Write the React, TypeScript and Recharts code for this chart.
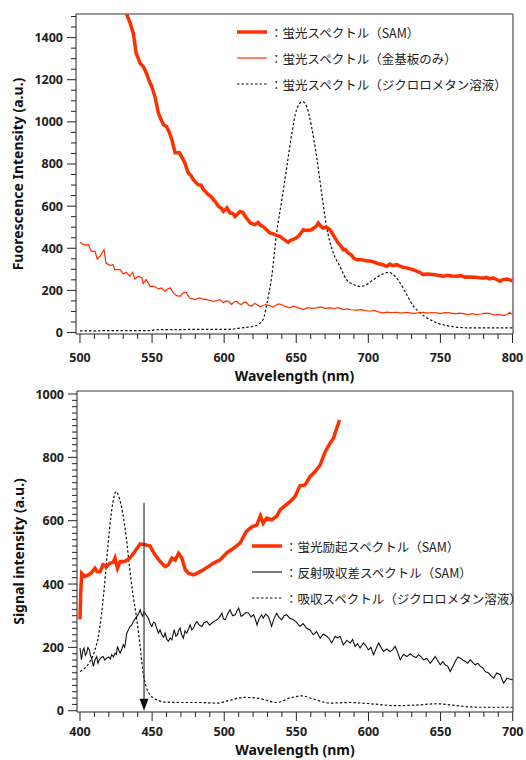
import React from "react";
import { LineChart, Line, XAxis, YAxis, ReferenceLine, Legend, Label } from "recharts";

// top panel: fluorescence spectra [wavelength nm, intensity]
const fluorSam: [number, number][] = [
  [530, 1600], [532.6, 1507], [535, 1465], [537, 1420], [539, 1326], [541.7, 1278], [544, 1262], [546, 1232],
  [548, 1195], [549.8, 1167], [552, 1120], [554.4, 1042], [556, 1015], [557.9, 986], [560, 978], [562, 950],
  [563.7, 915], [566, 853], [569, 853], [571.7, 820], [573, 800], [575, 758], [577, 745], [578.7, 725],
  [580, 715], [582, 701], [584, 700], [585.6, 678], [587, 670], [589, 654], [591, 645], [592.6, 630],
  [594, 620], [596, 599], [598, 590], [599.5, 575], [601, 585], [602, 592], [604, 568], [606, 565],
  [607.6, 551], [609, 562], [611, 575], [613, 570], [614.6, 551], [616, 540], [618, 521], [620, 515],
  [621.5, 512], [623.6, 523], [625, 510], [627, 504], [629, 490], [631.7, 473], [634, 468], [636, 462],
  [638.7, 457], [641, 445], [644.4, 428], [646, 438], [648, 442], [650, 449], [652, 460], [654.9, 488],
  [657, 484], [660.6, 488], [662, 495], [664, 505], [665.3, 520], [667, 505], [668.7, 496], [671, 500],
  [673.4, 488], [675, 470], [676.9, 449], [679, 425], [680.5, 415], [682.6, 393], [684, 395], [686, 378],
  [688, 370], [690, 352], [691.9, 346], [695, 345], [698.8, 341], [702, 338], [705.8, 330], [708, 325],
  [710, 322], [712.7, 314], [715, 325], [717, 318], [719.7, 322], [722, 315], [724, 310], [726.6, 307],
  [729, 302], [731, 298], [733.5, 291], [736, 285], [738, 275], [741, 278], [745, 275], [748, 272],
  [752, 267], [755, 272], [758, 268], [761, 267], [764, 270], [767, 263], [770.6, 264], [774, 262],
  [777, 260], [779.9, 259], [782, 262], [784, 255], [786.8, 259], [789, 252], [791.4, 243], [793, 250],
  [795.8, 254], [798, 250], [800, 246],
];

const fluorGold: [number, number][] = [
  [500, 428], [502.3, 417], [504, 416], [505.8, 417], [508, 385], [510.4, 385], [512, 349], [513.9, 362],
  [516.7, 393], [518, 330], [520.8, 319], [523, 322], [524, 299], [527.8, 299], [530, 278], [532, 286],
  [534.7, 267], [536.5, 286], [538, 254], [540.5, 267], [543, 259], [543.9, 232], [546, 251], [548.6, 219],
  [550.5, 220], [552, 217], [554.4, 207], [556.7, 212], [559, 196], [560.5, 205], [562.5, 212], [564.8, 188],
  [567, 175], [569.4, 172], [571.7, 188], [573.6, 191], [576, 164], [578, 160], [579.8, 156], [583, 164],
  [585, 160], [588, 156], [590, 152], [592.6, 148], [595, 152], [597, 156], [599.5, 141], [601, 150],
  [603, 148], [605, 133], [607, 145], [608.8, 148], [610, 138], [612, 133], [614, 145], [615.7, 141],
  [617, 130], [619, 125], [621, 138], [622.7, 133], [625, 122], [627, 128], [629, 133], [631.7, 128],
  [634, 120], [636, 130], [637.5, 136], [639.8, 133], [642, 125], [645.6, 117], [648, 125], [651, 118],
  [655, 109], [658, 118], [661, 115], [664, 117], [667, 122], [670, 115], [673.4, 117], [676, 114],
  [679, 118], [682.6, 109], [685, 112], [688, 108], [691.9, 106], [695, 109], [698, 104], [701, 101],
  [704, 105], [707, 98], [710.4, 93], [713, 97], [716, 95], [719.7, 96], [723, 92], [726, 96],
  [729, 93], [732, 90], [735, 95], [738, 96], [741, 92], [744, 95], [747.5, 93], [750, 90],
  [753, 94], [756.7, 93], [760, 89], [763, 92], [766, 90], [769, 85], [772, 90], [775, 85],
  [778, 88], [781, 92], [784.5, 90], [787, 83], [790, 86], [793.7, 81], [796, 84], [798, 96], [800, 85],
];

const fluorSolution: [number, number][] = [
  [500, 8], [510, 8], [520, 9], [530, 9], [540, 9], [550, 10], [552, 13], [560, 14], [570, 14],
  [580, 15], [590, 15], [600, 15], [605, 16], [610, 20], [615, 24], [621, 30], [624, 40], [627, 62],
  [630, 150], [633, 267], [636.4, 473], [640, 630], [643.5, 788], [647, 947], [650.2, 1057], [654.4, 1096],
  [657.2, 1073], [660.6, 978], [664.1, 836], [667.6, 662], [671, 504], [675.7, 378], [680.3, 314],
  [684.9, 251], [689.6, 228], [694.2, 219], [698.8, 228], [703.5, 251], [709.3, 275], [713.9, 286],
  [718.5, 267], [722, 236], [726.6, 180], [731.3, 125], [735.9, 93], [740.5, 70], [747.5, 46],
  [756.7, 30], [770.6, 22], [789, 22], [800, 22],
];

// bottom panel: excitation / absorption spectra
const excitationSam: [number, number][] = [
  [400, 289], [400.5, 371], [401.2, 434], [403.5, 424], [405.8, 429], [408, 436], [410.4, 450], [412, 439],
  [413.9, 439], [416, 461], [418.5, 455], [420.8, 466], [423, 468], [424.3, 482], [426, 450], [427.8, 471],
  [431, 471], [434.7, 482], [438, 503], [441.7, 527], [445, 524], [448.6, 520], [452, 492], [455.6, 471],
  [459, 455], [461.3, 461], [463.7, 482], [466, 476], [468.3, 497], [470.6, 482], [473, 445], [475.2, 434],
  [478.7, 429], [482, 436], [485.6, 445], [489, 455], [492.6, 466], [497, 476], [501.9, 499], [506.5, 513],
  [511, 529], [515.3, 566], [519, 580], [522.7, 587], [525, 615], [527, 592], [529.4, 608], [532.8, 603],
  [536.3, 613], [538.7, 634], [542, 647], [545.6, 660], [549, 676], [552.5, 710], [556, 713], [559.5, 739],
  [563, 755], [566.5, 776], [570, 818], [573.4, 845], [575.7, 860], [578, 892], [580, 918],
];

const reflectionDiff: [number, number][] = [
  [400, 198], [401, 161], [402, 190], [402.8, 198], [403.7, 175], [404.6, 182], [405.5, 200], [406.5, 192],
  [407.2, 175], [408, 166], [409.3, 140], [410.4, 160], [411.6, 171], [412.5, 150], [413.4, 161], [414.7, 168],
  [416, 171], [417.2, 160], [418.5, 166], [420, 170], [421, 163], [422, 177], [423.2, 170], [424.3, 182],
  [425.2, 178], [426, 203], [427, 190], [427.8, 182], [429, 195], [430, 208], [431, 200], [432.4, 245],
  [433.5, 255], [434.7, 266], [435.8, 270], [437, 282], [438.2, 290], [439.4, 298], [440.5, 305], [441.7, 319],
  [442.6, 305], [443.5, 298], [444.2, 312], [445, 308], [446.2, 300], [447.4, 292], [448.6, 275], [449.8, 266],
  [451, 280], [452, 277], [453.2, 260], [454.4, 245], [455.5, 255], [456.7, 240], [458, 232], [459, 245],
  [460.2, 225], [461.3, 219], [462.5, 230], [463.7, 224], [464.5, 240], [465.3, 256], [466.5, 235], [467.6, 240],
  [468.5, 255], [469.4, 261], [470.5, 240], [471.7, 229], [472.8, 252], [474, 245], [475.2, 258], [476.4, 271],
  [477.5, 255], [478.7, 261], [480, 275], [481, 282], [482.8, 270], [484.5, 266], [486, 278], [488, 282],
  [489.8, 270], [491.5, 277], [493.2, 283], [495, 287], [496.6, 295], [498.4, 308], [499.5, 290], [500.7, 287],
  [502.3, 305], [504, 319], [505.8, 300], [507.6, 303], [508.8, 315], [510, 324], [511.7, 298], [513.4, 303],
  [515, 310], [516.9, 308], [518.6, 296], [520.3, 303], [521.5, 290], [522.7, 271], [524.3, 292], [526, 303],
  [527, 292], [528.7, 305], [530.5, 298], [531.6, 285], [532.8, 266], [534.5, 290], [536.3, 308], [538, 295],
  [539.8, 287], [541.5, 300], [543.3, 303], [545.5, 292], [548, 287], [550, 280], [552.5, 266], [554.7, 275],
  [557, 261], [559.4, 255], [561.8, 240], [564, 250], [566.5, 229], [568.7, 242], [571, 235], [572.7, 228],
  [574.5, 214], [576.9, 235], [578.6, 230], [580.3, 235], [582.6, 208], [585, 222], [587.3, 214], [589, 225],
  [590.7, 203], [592.4, 212], [594.2, 198], [596.5, 214], [598.2, 205], [600, 192], [601.7, 200], [603.5, 177],
  [605.2, 195], [607, 214], [608.7, 200], [610.4, 187], [612.7, 195], [615, 187], [616.7, 192], [618.5, 203],
  [620.2, 185], [622, 161], [624.3, 178], [626.6, 171], [629, 180], [631.3, 171], [633, 168], [634.7, 177],
  [636.5, 170], [638.2, 161], [640.5, 165], [642.8, 150], [644.5, 160], [646.3, 171], [648, 158], [649.8, 145],
  [651.5, 155], [653.2, 145], [655, 140], [656.7, 124], [658.5, 140], [660.2, 156], [662, 170], [663.7, 166],
  [665.4, 160], [667, 156], [668.8, 150], [670.6, 161], [672.3, 152], [674, 145], [675.8, 150], [677.6, 140],
  [679.3, 135], [681, 124], [683.3, 119], [685, 110], [686.8, 103], [689, 119], [691.4, 114], [692.5, 100],
  [693.7, 87], [695, 95], [696, 103], [697.8, 100], [699.5, 98], [700, 98],
];

const absorptionSolution: [number, number][] = [
  [400, 124], [403.5, 135], [407, 156], [410.4, 192], [412.7, 234], [415, 308], [416.7, 382], [418.5, 476],
  [420.4, 571], [422.7, 655], [425, 692], [427.3, 671], [429.6, 624], [432, 550], [434.3, 455], [436.6, 371],
  [439.4, 287], [441.7, 203], [443.5, 129], [445.8, 77], [448.6, 50], [453, 35], [460, 27], [471.7, 26],
  [483.3, 26], [495, 24], [504, 33], [513.4, 42], [522.7, 40], [527, 36], [536.3, 26], [545.6, 40],
  [553.7, 47], [561.8, 37], [573.4, 24], [587.3, 26], [601.2, 22], [619.7, 16], [633.6, 18], [647.5, 22],
  [661.3, 16], [675.2, 11], [700, 11],
];

const arrowWavelength = 444.4;
const arrowTop = 657;

const topLegend = [
  { label: "：蛍光スペクトル（SAM）", width: 3.5, dash: undefined, color: "#ff3000" },
  { label: "：蛍光スペクトル（金基板のみ）", width: 1.2, dash: undefined, color: "#ff3000" },
  { label: "：蛍光スペクトル（ジクロロメタン溶液）", width: 1.2, dash: "2.5 2", color: "#111" },
];
const bottomLegend = [
  { label: "：蛍光励起スペクトル（SAM）", width: 3.5, dash: undefined, color: "#ff3000" },
  { label: "：反射吸収差スペクトル（SAM）", width: 1.1, dash: undefined, color: "#111" },
  { label: "：吸収スペクトル（ジクロロメタン溶液）", width: 1.2, dash: "2.5 2", color: "#111" },
];

const range = (start: number, end: number, step: number) => {
  const out: number[] = [];
  for (let v = start; v <= end + 1e-9; v += step) out.push(Math.round(v));
  return out;
};

const toRows = (pts: [number, number][]) => pts.map(([x, y]) => ({ x, y }));

const RED = "#ff3000";
const AXIS = "#222";
const FRAME = "#777";
const tickFont = { fontFamily: "'Noto Sans', sans-serif", fontWeight: 700, fontSize: 12.5, fill: "#222" };
const titleFont = { fontFamily: "'Noto Sans', sans-serif", fontWeight: 700, fontSize: 14, fill: "#111" };

const makeXTick = (majorStep: number, labelOffset: number) => (props: any) => {
  const { x, y, payload } = props;
  const major = payload.value % majorStep === 0;
  return (
    <g>
      <line x1={x} y1={y} x2={x} y2={y + (major ? 9 : 5)} stroke={AXIS} strokeWidth={1} />
      {major && (
        <text x={x} y={y + labelOffset} textAnchor="middle" dominantBaseline="central" style={tickFont}>
          {payload.value}
        </text>
      )}
    </g>
  );
};

const makeYTick = (majorStep: number) => (props: any) => {
  const { x, y, payload } = props;
  const major = payload.value % majorStep === 0;
  return (
    <g>
      <line x1={x} y1={y} x2={x - (major ? 9 : 5)} y2={y} stroke={AXIS} strokeWidth={1} />
      {major && (
        <text x={x - 13} y={y} textAnchor="end" dominantBaseline="central" style={tickFont}>
          {payload.value}
        </text>
      )}
    </g>
  );
};

const LegendBox = ({ items }: { items: typeof topLegend }) => (
  <div style={{ fontFamily: "'Noto Sans CJK JP', sans-serif", fontSize: 12.5, color: "#222" }}>
    {items.map((it) => (
      <div key={it.label} style={{ height: 26, display: "flex", alignItems: "center", whiteSpace: "nowrap" }}>
        <svg width={30} height={10} style={{ marginRight: 3 }}>
          <line x1={0} y1={5} x2={30} y2={5} stroke={it.color} strokeWidth={it.width} strokeDasharray={it.dash} />
        </svg>
        <span>{it.label}</span>
      </div>
    ))}
  </div>
);

const ArrowShape = (props: any) => {
  const { x1, y1, x2, y2 } = props;
  const top = Math.min(y1, y2);
  const tip = Math.max(y1, y2);
  return (
    <g>
      <line x1={x1} y1={top} x2={x2} y2={tip - 10} stroke="#333" strokeWidth={1.2} />
      <polygon points={`${x1 - 4.5},${tip - 12} ${x1 + 4.5},${tip - 12} ${x1},${tip}`} fill="#111" />
    </g>
  );
};

const FluorescencePanel = () => (
  <LineChart width={526} height={388} margin={{ top: 14, right: 13, left: 0, bottom: 0 }}>
    <XAxis
      type="number"
      dataKey="x"
      domain={[497.23, 800.35]}
      allowDataOverflow
      ticks={range(500, 800, 10)}
      interval={0}
      tickSize={0}
      tickMargin={0}
      tick={makeXTick(50, 23)}
      height={54}
      axisLine={{ stroke: AXIS }}
    >
      <Label
        content={() => (
          <text x={294.5} y={375} textAnchor="middle" dominantBaseline="central" style={titleFont}>
            Wavelength (nm)
          </text>
        )}
      />
    </XAxis>
    <YAxis
      type="number"
      domain={[-7, 1512]}
      allowDataOverflow
      ticks={range(0, 1500, 50)}
      interval={0}
      tickSize={0}
      tickMargin={0}
      tick={makeYTick(200)}
      width={76}
      axisLine={{ stroke: AXIS }}
    >
      <Label
        content={() => (
          <text
            x={17}
            y={174}
            transform="rotate(-90 17 174)"
            textAnchor="middle"
            dominantBaseline="central"
            style={titleFont}
          >
            Fuorescence Intensity (a.u.)
          </text>
        )}
      />
    </YAxis>
    <ReferenceLine y={1512} stroke={FRAME} strokeWidth={1.6} />
    <ReferenceLine x={800.35} stroke={FRAME} strokeWidth={1.6} />
    <Line data={toRows(fluorSolution)} dataKey="y" type="monotone" stroke="#111" strokeWidth={1.2} strokeDasharray="2.5 2" dot={false} isAnimationActive={false} />
    <Line data={toRows(fluorGold)} dataKey="y" type="linear" stroke={RED} strokeWidth={1.2} dot={false} isAnimationActive={false} />
    <Line data={toRows(fluorSam)} dataKey="y" type="linear" stroke={RED} strokeWidth={3.5} dot={false} isAnimationActive={false} />
    <Legend
      layout="vertical"
      align="center"
      verticalAlign="middle"
      wrapperStyle={{ left: 237, top: 19, width: 290 }}
      content={() => <LegendBox items={topLegend} />}
    />
  </LineChart>
);

// second chart overlaps the first one's bottom strip so the "1000" label has room
const ExcitationPanel = () => (
  <LineChart width={526} height={384} margin={{ top: 15, right: 13, left: 0, bottom: 0 }}>
    <XAxis
      type="number"
      dataKey="x"
      domain={[397.92, 700.2]}
      allowDataOverflow
      ticks={range(400, 700, 10)}
      interval={0}
      tickSize={0}
      tickMargin={0}
      tick={makeXTick(50, 19)}
      height={48}
      axisLine={{ stroke: AXIS }}
    >
      <Label
        content={() => (
          <text x={295} y={373.5} textAnchor="middle" dominantBaseline="central" style={titleFont}>
            Wavelength (nm)
          </text>
        )}
      />
    </XAxis>
    <YAxis
      type="number"
      domain={[-4, 1009.5]}
      allowDataOverflow
      ticks={range(0, 1000, 20)}
      interval={0}
      tickSize={0}
      tickMargin={0}
      tick={makeYTick(200)}
      width={77}
      axisLine={{ stroke: AXIS }}
    >
      <Label
        content={() => (
          <text
            x={18}
            y={175.5}
            transform="rotate(-90 18 175.5)"
            textAnchor="middle"
            dominantBaseline="central"
            style={titleFont}
          >
            Signal intensity (a.u.)
          </text>
        )}
      />
    </YAxis>
    <ReferenceLine y={1009.5} stroke={FRAME} strokeWidth={1.6} />
    <ReferenceLine x={700.2} stroke={FRAME} strokeWidth={1.6} />
    <Line data={toRows(absorptionSolution)} dataKey="y" type="monotone" stroke="#111" strokeWidth={1.2} strokeDasharray="2.5 2" dot={false} isAnimationActive={false} />
    <Line data={toRows(reflectionDiff)} dataKey="y" type="linear" stroke="#111" strokeWidth={1.1} dot={false} isAnimationActive={false} />
    <Line data={toRows(excitationSam)} dataKey="y" type="linear" stroke={RED} strokeWidth={3.5} dot={false} isAnimationActive={false} />
    <ReferenceLine
      segment={[
        { x: arrowWavelength, y: arrowTop },
        { x: arrowWavelength, y: 0 },
      ]}
      shape={ArrowShape}
    />
    <Legend
      layout="vertical"
      align="center"
      verticalAlign="middle"
      wrapperStyle={{ left: 252, top: 157, width: 290 }}
      content={() => <LegendBox items={bottomLegend} />}
    />
  </LineChart>
);

export default function App() {
  return (
    <div style={{ position: "absolute", left: 0, top: 0, width: 526, height: 760, background: "#fff" }}>
      <div style={{ position: "absolute", left: 0, top: 0 }}>
        <FluorescencePanel />
      </div>
      <div style={{ position: "absolute", left: 0, top: 376 }}>
        <ExcitationPanel />
      </div>
    </div>
  );
}
